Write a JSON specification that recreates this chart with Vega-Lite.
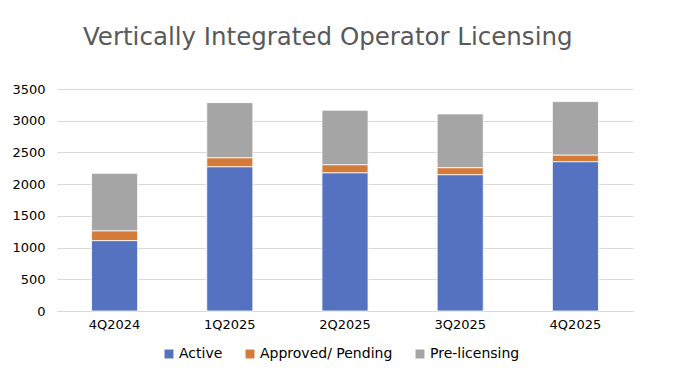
{
  "$schema": "https://vega.github.io/schema/vega-lite/v6.json",
  "width": 576,
  "height": 222,
  "autosize": {"type": "none"},
  "padding": {"left": 57, "top": 89, "right": 42, "bottom": 63},
  "background": "white",
  "title": {
    "text": "Vertically Integrated Operator Licensing",
    "font": "DejaVu Sans",
    "fontSize": 24.5,
    "fontWeight": "normal",
    "color": "#595959",
    "anchor": "start",
    "frame": "group",
    "dx": 26,
    "offset": 33
  },
  "data": {
    "values": [
      {"quarter": "4Q2024", "status": "Active", "order": 1, "value": 1110},
      {"quarter": "4Q2024", "status": "Approved/ Pending", "order": 2, "value": 155},
      {"quarter": "4Q2024", "status": "Pre-licensing", "order": 3, "value": 905},
      {"quarter": "1Q2025", "status": "Active", "order": 1, "value": 2275},
      {"quarter": "1Q2025", "status": "Approved/ Pending", "order": 2, "value": 142},
      {"quarter": "1Q2025", "status": "Pre-licensing", "order": 3, "value": 868},
      {"quarter": "2Q2025", "status": "Active", "order": 1, "value": 2180},
      {"quarter": "2Q2025", "status": "Approved/ Pending", "order": 2, "value": 127},
      {"quarter": "2Q2025", "status": "Pre-licensing", "order": 3, "value": 858},
      {"quarter": "3Q2025", "status": "Active", "order": 1, "value": 2150},
      {"quarter": "3Q2025", "status": "Approved/ Pending", "order": 2, "value": 110},
      {"quarter": "3Q2025", "status": "Pre-licensing", "order": 3, "value": 847},
      {"quarter": "4Q2025", "status": "Active", "order": 1, "value": 2355},
      {"quarter": "4Q2025", "status": "Approved/ Pending", "order": 2, "value": 105},
      {"quarter": "4Q2025", "status": "Pre-licensing", "order": 3, "value": 841}
    ]
  },
  "mark": {"type": "bar", "stroke": "#ffffff", "strokeWidth": 0.8},
  "encoding": {
    "x": {
      "field": "quarter",
      "type": "nominal",
      "sort": ["4Q2024", "1Q2025", "2Q2025", "3Q2025", "4Q2025"],
      "scale": {"paddingInner": 0.6, "paddingOuter": 0.3},
      "axis": {
        "title": null,
        "labelAngle": 0,
        "labelFont": "DejaVu Sans",
        "labelFontSize": 13,
        "labelColor": "#000000",
        "labelPadding": 7,
        "ticks": false,
        "domainColor": "#D9D9D9",
        "domainWidth": 1
      }
    },
    "y": {
      "field": "value",
      "type": "quantitative",
      "aggregate": "sum",
      "stack": "zero",
      "scale": {"domain": [0, 3500], "nice": false},
      "axis": {
        "title": null,
        "format": "d",
        "values": [0, 500, 1000, 1500, 2000, 2500, 3000, 3500],
        "labelFont": "DejaVu Sans",
        "labelFontSize": 13,
        "labelColor": "#000000",
        "labelPadding": 12,
        "ticks": false,
        "domain": false,
        "gridColor": "#D9D9D9",
        "gridWidth": 1
      }
    },
    "color": {
      "field": "status",
      "type": "nominal",
      "scale": {
        "domain": ["Active", "Approved/ Pending", "Pre-licensing"],
        "range": ["#5572C1", "#D57B3A", "#A5A5A5"]
      },
      "legend": {
        "title": null,
        "orient": "none",
        "direction": "horizontal",
        "legendX": 105,
        "legendY": 258,
        "symbolType": "square",
        "symbolSize": 80,
        "symbolStrokeWidth": 0,
        "labelFont": "DejaVu Sans",
        "labelFontSize": 14,
        "labelColor": "#000000",
        "columnPadding": 20,
        "labelOffset": 3
      }
    },
    "order": {"field": "order", "type": "quantitative"}
  },
  "config": {"view": {"stroke": null}}
}
